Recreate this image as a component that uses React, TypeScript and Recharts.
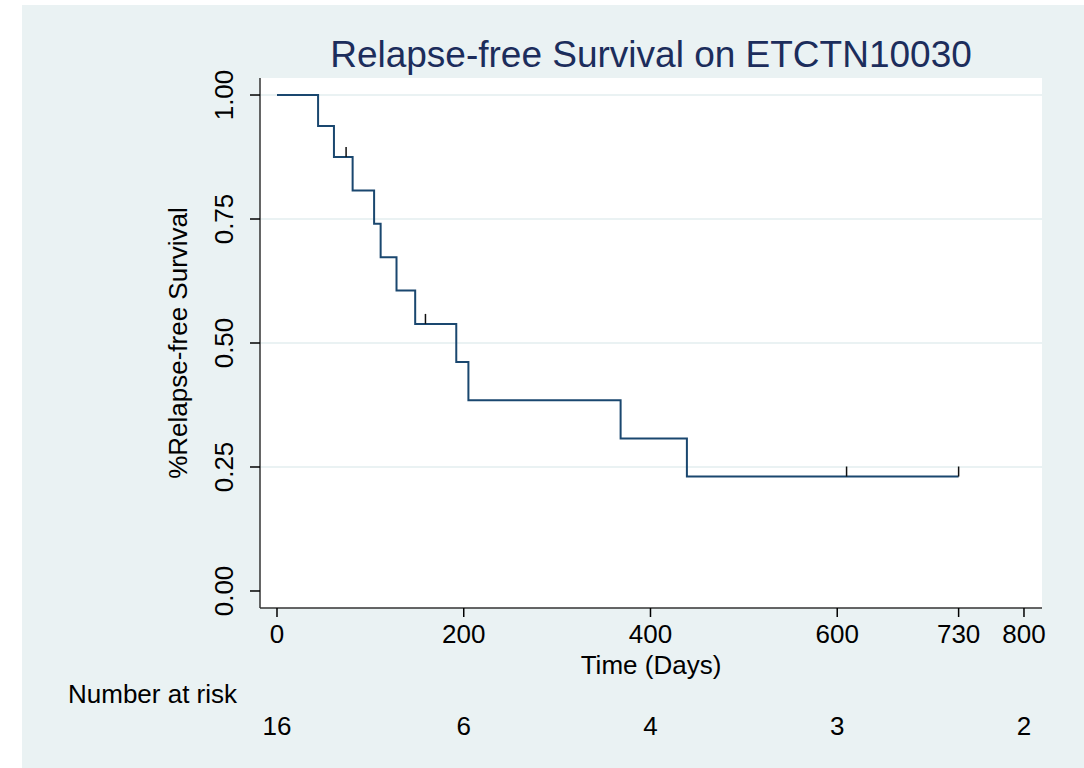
import React from "react";
import { ComposedChart, Line, Scatter, XAxis, YAxis, CartesianGrid, ReferenceLine, Label } from "recharts";

const FONT = '"Liberation Sans", Arial, Helvetica, sans-serif';

// Kaplan-Meier steps (time in days, survival probability)
const eventTimes = [0, 44, 61, 81, 104, 111, 128, 148, 192, 205, 368, 439, 730];
const survival = [1, 0.9375, 0.875, 0.8077, 0.7404, 0.6731, 0.6058, 0.5385, 0.4615, 0.3846, 0.3077, 0.2308, 0.2308];

// censored observations
const censorTimes = [74, 159, 610, 730];
const censorSurvival = [0.875, 0.5385, 0.2308, 0.2308];

const xTicks = [0, 200, 400, 600, 730, 800];
const yTicks = [0, 0.25, 0.5, 0.75, 1];
const gridValues = [0.25, 0.5, 0.75, 1];

const riskTimes = [0, 200, 400, 600, 800];
const riskCounts = [16, 6, 4, 3, 2];

const lineData = eventTimes.map((t, i) => ({ t, s: survival[i] }));
const censorData = censorTimes.map((t, i) => ({ t, s: censorSurvival[i] }));

const X_DOMAIN = [-18.2, 819.3];
const Y_DOMAIN = [-0.0343, 1.0343];

const XTick = ({ x, y, payload }: any) => (
  <text x={x} y={y + 26} textAnchor="middle" fontSize={26} fontFamily={FONT} fill="#000">
    {payload.value}
  </text>
);

const YTick = ({ x, y, payload }: any) => (
  <text
    x={x}
    y={y}
    transform={`rotate(-90, ${x}, ${y})`}
    textAnchor="middle"
    fontSize={26}
    fontFamily={FONT}
    fill="#000"
  >
    {Number(payload.value).toFixed(2)}
  </text>
);

const RiskTick = ({ x, y, payload }: any) => {
  const idx = riskTimes.indexOf(payload.value);
  return (
    <text x={x} y={y + 57} textAnchor="middle" fontSize={26} fontFamily={FONT} fill="#000">
      {idx >= 0 ? riskCounts[idx] : ""}
    </text>
  );
};

const CensorMark = ({ cx, cy }: any) => (
  <line x1={cx} x2={cx} y1={cy} y2={cy - 10} stroke="#111" strokeWidth={1.5} />
);

const App = () => {
  return (
    <div style={{ position: "absolute", left: 0, top: 0, width: 1084, height: 768, background: "#fff" }}>
      <div style={{ position: "absolute", left: 22, top: 5, width: 1062, height: 763, background: "#EAF2F3" }} />
      <div style={{ position: "absolute", left: 0, top: 0 }}>
        <ComposedChart width={1084} height={768} margin={{ top: 78, right: 42, left: 200, bottom: 30 }}>
          <CartesianGrid horizontal={false} vertical={false} fill="#fff" />
          {gridValues.map((v) => (
            <ReferenceLine key={v} y={v} stroke="#EAF2F3" strokeWidth={2} />
          ))}
          <XAxis
            dataKey="t"
            type="number"
            domain={X_DOMAIN}
            allowDataOverflow
            ticks={xTicks}
            interval={0}
            height={70}
            tickSize={9}
            tickMargin={0}
            tick={<XTick />}
            axisLine={{ stroke: "#333", strokeWidth: 1.5 }}
            tickLine={{ stroke: "#000", strokeWidth: 1.5 }}
          >
            <Label
              content={(p: any) => {
                const vb = p.viewBox;
                return (
                  <text x={vb.x + vb.width / 2} y={vb.y + 66} textAnchor="middle" fontSize={26} fontFamily={FONT} fill="#000">
                    Time (Days)
                  </text>
                );
              }}
            />
          </XAxis>
          <XAxis
            xAxisId="risk"
            dataKey="t"
            type="number"
            domain={X_DOMAIN}
            allowDataOverflow
            ticks={riskTimes}
            interval={0}
            height={60}
            tickSize={0}
            tickMargin={0}
            tick={<RiskTick />}
            axisLine={false}
            tickLine={false}
          >
            <Label
              content={(p: any) => {
                const vb = p.viewBox;
                return (
                  <text x={68} y={vb.y + 25} textAnchor="start" fontSize={26} fontFamily={FONT} fill="#000">
                    Number at risk
                  </text>
                );
              }}
            />
          </XAxis>
          <YAxis
            dataKey="s"
            type="number"
            domain={Y_DOMAIN}
            allowDataOverflow
            ticks={yTicks}
            interval={0}
            width={60}
            tickSize={10}
            tickMargin={17}
            tick={<YTick />}
            axisLine={{ stroke: "#333", strokeWidth: 1.5 }}
            tickLine={{ stroke: "#000", strokeWidth: 1.5 }}
          >
            <Label
              content={(p: any) => {
                const vb = p.viewBox;
                const cx = 187;
                const cy = vb.y + vb.height / 2;
                return (
                  <text x={cx} y={cy} transform={`rotate(-90, ${cx}, ${cy})`} textAnchor="middle" fontSize={26} fontFamily={FONT} fill="#000">
                    %Relapse-free Survival
                  </text>
                );
              }}
            />
          </YAxis>
          <Line
            data={lineData}
            dataKey="s"
            type="stepAfter"
            stroke="#1A476F"
            strokeWidth={2}
            dot={false}
            activeDot={false}
            isAnimationActive={false}
          />
          <Scatter data={censorData} dataKey="s" shape={<CensorMark />} isAnimationActive={false} />
        </ComposedChart>
      </div>
      <svg width={1084} height={100} style={{ position: "absolute", left: 0, top: 0, pointerEvents: "none" }}>
        <text x={651} y={67} textAnchor="middle" fontSize={37} fontFamily={FONT} fill="#1C2D5C">
          Relapse-free Survival on ETCTN10030
        </text>
      </svg>
    </div>
  );
};

export default App;
